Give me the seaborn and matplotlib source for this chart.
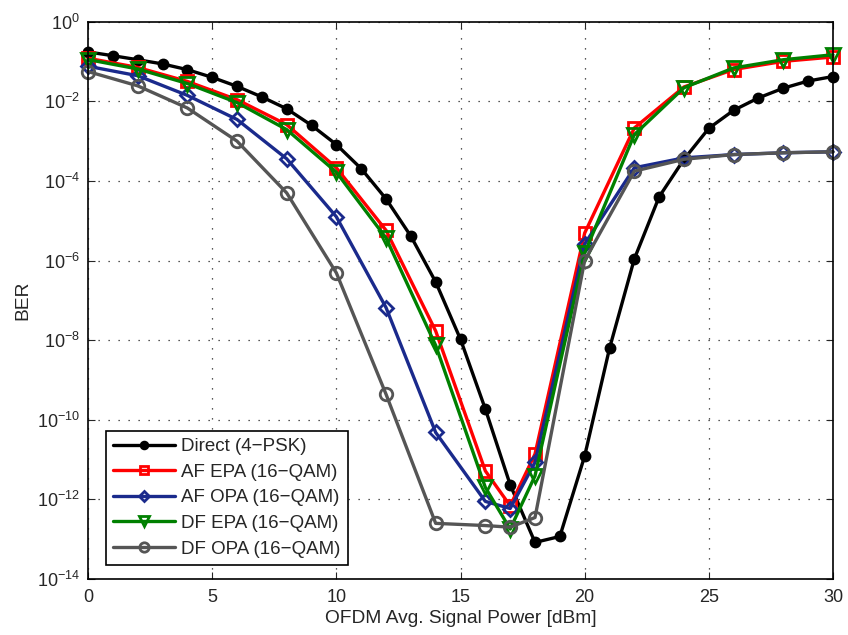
import numpy as np
import pandas as pd
import seaborn as sns
import matplotlib.pyplot as plt
from matplotlib.ticker import FixedLocator, NullLocator

# power axis values [dBm]
power_direct = list(range(0, 31))
power_relay = [0, 2, 4, 6, 8, 10, 12, 14, 16, 17, 18, 20, 22, 24, 26, 28, 30]

# BER
ber_direct = [1.74e-1, 1.40e-1, 1.11e-1, 8.7e-2, 6.25e-2, 4.0e-2, 2.38e-2, 1.29e-2,
              6.5e-3, 2.5e-3, 8.2e-4, 2.04e-4, 3.55e-5, 4.1e-6, 2.9e-7, 1.05e-8,
              1.86e-10, 2.34e-12, 8.3e-14, 1.17e-13, 1.23e-11, 6.2e-9, 1.1e-6,
              4.0e-5, 3.5e-4, 2.1e-3, 5.96e-3, 1.22e-2, 2.14e-2, 3.24e-2, 4.2e-2]
ber_af_epa = [1.21e-1, 7.1e-2, 3.16e-2, 1.1e-2, 2.6e-3, 2.14e-4, 5.75e-6, 1.7e-8,
              5.2e-12, 6.9e-13, 1.38e-11, 4.9e-6, 2.14e-3, 2.3e-2, 6.3e-2, 1.01e-1, 1.3e-1]
ber_af_opa = [7.6e-2, 4.4e-2, 1.41e-2, 3.5e-3, 3.6e-4, 1.26e-5, 6.6e-8, 4.8e-11,
              8.9e-13, 5.9e-13, 8.5e-12, 2.6e-6, 2.14e-4, 3.8e-4, 4.6e-4, 5.1e-4, 5.4e-4]
ber_df_epa = [1.12e-1, 6.5e-2, 2.8e-2, 9.3e-3, 1.95e-3, 1.66e-4, 3.7e-6, 7.4e-9,
              2.0e-12, 1.8e-13, 3.9e-12, 1.55e-6, 1.46e-3, 2.2e-2, 6.9e-2, 1.11e-1, 1.48e-1]
ber_df_opa = [5.6e-2, 2.45e-2, 6.8e-3, 1.0e-3, 5.0e-5, 4.9e-7, 4.4e-10, 2.5e-13,
              2.2e-13, 2.0e-13, 3.5e-13, 1.0e-6, 1.76e-4, 3.5e-4, 4.6e-4, 5.1e-4, 5.4e-4]

labels = ['Direct (4\u2212PSK)', 'AF EPA (16\u2212QAM)', 'AF OPA (16\u2212QAM)',
          'DF EPA (16\u2212QAM)', 'DF OPA (16\u2212QAM)']

sns.set_style('ticks')
plt.rcParams['font.family'] = ['Liberation Sans', 'DejaVu Sans']
plt.rcParams['mathtext.default'] = 'regular'

fig = plt.figure(figsize=(8.48, 6.35), dpi=100)
ax = fig.add_axes([0.1038, 0.0882, 0.8785, 0.8776])

series = [
    (power_direct, ber_direct, labels[0], 'black', 'o', 'black', 6.5),
    (power_relay, ber_af_epa, labels[1], '#ff0000', 's', 'none', 8),
    (power_relay, ber_af_opa, labels[2], '#1a2a8c', 'D', 'none', 7),
    (power_relay, ber_df_epa, labels[3], '#008000', 'v', 'none', 10),
    (power_relay, ber_df_opa, labels[4], '#555555', 'o', 'none', 9),
]

for x, y, lab, col, mk, fc, ms in series:
    df = pd.DataFrame({'power': x, 'ber': y})
    sns.lineplot(data=df, x='power', y='ber', ax=ax, color=col, linewidth=2.4,
                 marker=mk, markersize=ms, markerfacecolor=fc, markeredgecolor=col,
                 markeredgewidth=2, label=lab, clip_on=False)

ax.set_yscale('log')
ax.set_xlim(0, 30)
ax.set_ylim(1e-14, 1)
ax.set_xticks([0, 5, 10, 15, 20, 25, 30])
ax.yaxis.set_major_locator(FixedLocator([10.0 ** e for e in range(-14, 1, 2)]))
ax.yaxis.set_minor_locator(NullLocator())
ax.set_yticklabels(['$10^{%d}$' % e for e in range(-14, 1, 2)])

ax.grid(True, which='major', color='#222222', linestyle=(0, (1, 7)), linewidth=0.9)
ax.tick_params(direction='in', top=True, right=True, labelsize=13, length=5)
ax.tick_params(axis='x', pad=7)
ax.tick_params(axis='y', pad=6)
for s in ax.spines.values():
    s.set_linewidth(1.2)
    s.set_color('black')

ax.set_xlabel('OFDM Avg. Signal Power [dBm]', fontsize=13.8, labelpad=3)
ax.set_ylabel('BER', fontsize=13.8, labelpad=4)

leg = ax.legend(loc='lower left', bbox_to_anchor=(0.024, 0.025), fontsize=13.5,
                frameon=True, fancybox=False, edgecolor='black', framealpha=1,
                handlelength=3.3, borderpad=0.4, labelspacing=0.45, handletextpad=0.3,
                borderaxespad=0, markerscale=0.75)
leg.get_frame().set_linewidth(1.2)

plt.savefig('out.png', dpi=100)
